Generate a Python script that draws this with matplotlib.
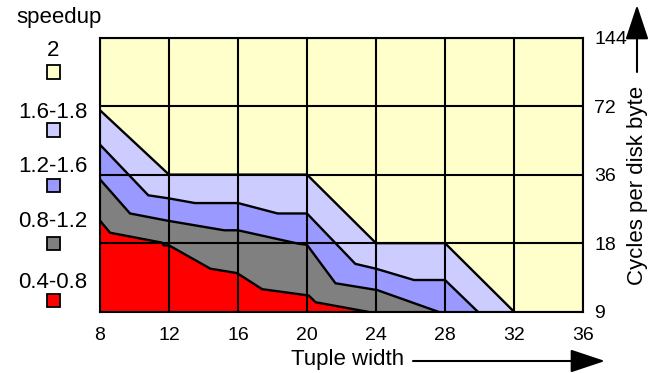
import matplotlib
matplotlib.use('Agg')
import matplotlib.pyplot as plt
from matplotlib.patches import Rectangle
from matplotlib.ticker import FixedLocator, FixedFormatter, NullLocator

plt.rcParams['font.family'] = ['Liberation Sans', 'DejaVu Sans']

# ---- data ----
x_ticks = [8, 12, 16, 20, 24, 28, 32, 36]
y_ticks = [9, 18, 36, 72, 144]
y_tick_labels = ['9', '18', '36', '72', '144']

legend_labels = ['2', '1.6-1.8', '1.2-1.6', '0.8-1.2', '0.4-0.8']
legend_colors = ['#FFFFCC', '#CCCCFF', '#9999FF', '#808080', '#FF0000']

# boundary between "2" and "1.6-1.8"
b1_x = [8, 12, 20, 24, 28, 32]
b1_y = [69, 36, 36, 18, 18, 9]
# boundary between "1.6-1.8" and "1.2-1.6"
b2_x = [8, 10.8, 12, 13.5, 16, 18.3, 20, 22.8, 24, 26.2, 28, 29.9]
b2_y = [48.7, 29.2, 28.3, 27, 27, 24.3, 24.3, 14.6, 13.9, 12.4, 12.4, 9]
# boundary between "1.2-1.6" and "0.8-1.2"
b3_x = [8, 9.74, 11.9, 15.2, 16, 19.5, 20, 21.65, 24.07, 27.6]
b3_y = [34.3, 24.3, 22.6, 20.5, 20.5, 17.9, 17.7, 12.0, 11.2, 9]
# boundary between "0.8-1.2" and "0.4-0.8"
b4_x = [8, 8.58, 11.58, 11.7, 12, 14.4, 15.94, 17.4, 20.1, 20.5, 23.5]
b4_y = [22.6, 20, 18.1, 17.6, 17.6, 13.9, 13.3, 11.3, 10.6, 9.9, 9]

boundaries = [(b1_x, b1_y), (b2_x, b2_y), (b3_x, b3_y), (b4_x, b4_y)]

W, H = 660, 373
fig = plt.figure(figsize=(W / 100, H / 100), dpi=100)
L, R, T, B = 100, 583, 37.5, 311.7
ax = fig.add_axes([L / W, 1 - B / H, (R - L) / W, (B - T) / H])
ax.set_yscale('log', base=2)
ax.set_xlim(8, 36)
ax.set_ylim(9, 144)
ax.set_facecolor(legend_colors[0])

for (bx, by), c in zip(boundaries, legend_colors[1:]):
    ax.fill_between(bx, 9, by, color=c, lw=0, zorder=1)
for bx, by in boundaries:
    ax.plot(bx, by, color='black', lw=1.7, zorder=2, solid_joinstyle='miter')

ax.xaxis.set_major_locator(FixedLocator(x_ticks))
ax.yaxis.set_major_locator(FixedLocator(y_ticks))
ax.yaxis.set_major_formatter(FixedFormatter(y_tick_labels))
ax.yaxis.set_minor_locator(NullLocator())
ax.xaxis.set_minor_locator(NullLocator())
ax.yaxis.tick_right()
ax.tick_params(axis='both', length=0, labelsize=14)
ax.tick_params(axis='x', pad=11)
ax.tick_params(axis='y', pad=8)
ax.grid(True, color='black', lw=1.5)
ax.set_axisbelow(False)
for s in ax.spines.values():
    s.set_linewidth(1.5)
    s.set_color('black')
    s.set_zorder(3)

# legend (left side)
fig.text(59 / W, 1 - 18 / H, 'speedup', ha='center', va='center', fontsize=16)
label_y = [51, 112, 166, 222, 282]
square_y = [72, 130, 185, 243, 300]
for lab, c, ly, sy in zip(legend_labels, legend_colors, label_y, square_y):
    fig.text(53 / W, 1 - ly / H, lab, ha='center', va='center', fontsize=16)
    sz = 13
    fig.patches.append(Rectangle(((53 - sz / 2) / W, 1 - (sy + sz / 2) / H), sz / W, sz / H,
                                 transform=fig.transFigure, facecolor=c,
                                 edgecolor='black', lw=1.3))

# axis labels with arrows
fig.text(637 / W, 1 - 185 / H, 'Cycles per disk byte', rotation=90,
         ha='center', va='center', fontsize=16)
fig.text(348 / W, 1 - 359 / H, 'Tuple width', ha='center', va='center', fontsize=16)

arrow_style = '-|>,head_length=1.08,head_width=0.36'
ax.annotate('', xy=(637, H - 5), xytext=(637, H - 72), xycoords='figure pixels',
            textcoords='figure pixels',
            arrowprops=dict(arrowstyle=arrow_style, mutation_scale=20,
                            color='black', lw=1.5, shrinkA=0, shrinkB=0))
ax.annotate('', xy=(605, H - 361), xytext=(413, H - 361), xycoords='figure pixels',
            textcoords='figure pixels',
            arrowprops=dict(arrowstyle=arrow_style, mutation_scale=20,
                            color='black', lw=1.5, shrinkA=0, shrinkB=0))

fig.savefig('out.png', dpi=100)
